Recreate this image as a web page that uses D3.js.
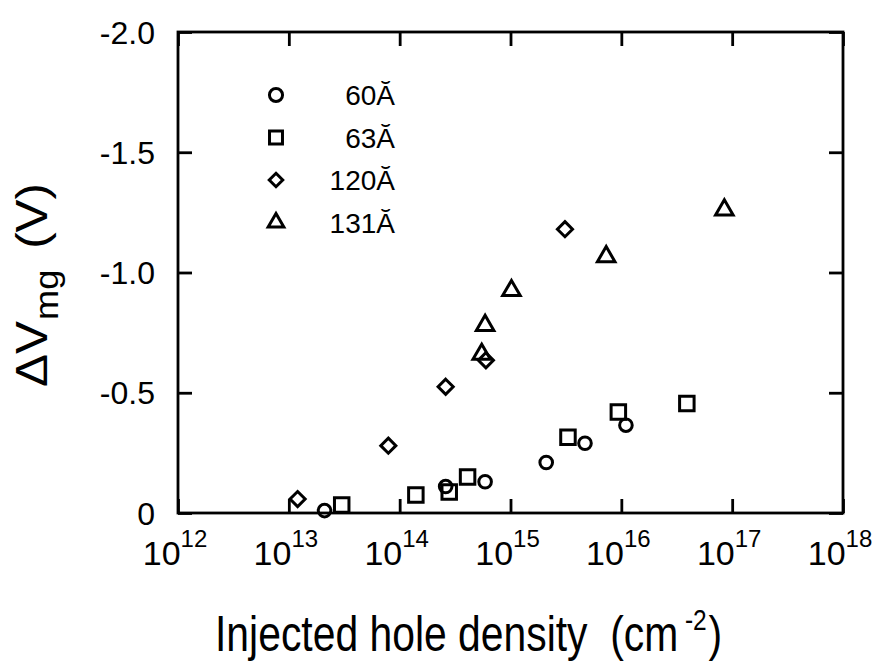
<!DOCTYPE html>
<html>
<head>
<meta charset="utf-8">
<script src="https://cdn.jsdelivr.net/npm/d3@7"></script>
<style>
body { margin: 0; background: #fff; }
text { font-family: "Liberation Sans", Arial, sans-serif; fill: #000; }
</style>
</head>
<body>
<svg class="chart" width="883" height="663"></svg>
<script>
// data (x = injected hole density, y = delta V_mg in V)
var s60x = [2.1e13, 2.6e14, 5.9e14, 2.1e15, 4.7e15, 1.1e16];
var s60y = [-0.01, -0.11, -0.13, -0.21, -0.29, -0.365];
var s63x = [3.0e13, 1.4e14, 2.8e14, 4.1e14, 3.3e15, 9.4e15, 3.9e16];
var s63y = [-0.033, -0.075, -0.087, -0.15, -0.315, -0.42, -0.455];
var s120x = [1.2e13, 7.9e13, 2.6e14, 6.0e14, 3.1e15];
var s120y = [-0.058, -0.28, -0.525, -0.635, -1.18];
var s131x = [5.5e14, 5.9e14, 1.02e15, 7.3e15, 8.5e16];
var s131y = [-0.66, -0.78, -0.925, -1.066, -1.26];

var legendNames = ["60Ă", "63Ă", "120Ă", "131Ă"];
var xTicks = [1e12, 1e13, 1e14, 1e15, 1e16, 1e17, 1e18];
var yTicks = [0, -0.5, -1.0, -1.5, -2.0];

var svg = d3.select(".chart");
var margin = {top: 32, left: 178},
    width = 843 - margin.left,
    height = 513 - margin.top;

var g = svg.append("g")
    .attr("transform", "translate(" + margin.left + "," + margin.top + ")");

var x = d3.scaleLog().domain([1e12, 1e18]).range([0, width]);
var y = d3.scaleLinear().domain([0, -2]).range([height, 0]);

// frame
g.append("rect")
    .attr("width", width).attr("height", height)
    .attr("fill", "none").attr("stroke", "#000").attr("stroke-width", 2.8);

// inward ticks on all four sides
var tickLen = 14;
function tickStyle(sel) {
  sel.select(".domain").remove();
  sel.selectAll(".tick line").attr("stroke", "#000").attr("stroke-width", 2.8);
  sel.selectAll(".tick text").remove();
}
g.append("g").attr("transform", "translate(0," + height + ")")
    .call(d3.axisBottom(x).tickValues(xTicks).tickSizeInner(-tickLen).tickSizeOuter(0))
    .call(tickStyle);
g.append("g")
    .call(d3.axisTop(x).tickValues(xTicks).tickSizeInner(-tickLen).tickSizeOuter(0))
    .call(tickStyle);
g.append("g")
    .call(d3.axisLeft(y).tickValues(yTicks).tickSizeInner(-tickLen).tickSizeOuter(0))
    .call(tickStyle);
g.append("g").attr("transform", "translate(" + width + ",0)")
    .call(d3.axisRight(y).tickValues(yTicks).tickSizeInner(-tickLen).tickSizeOuter(0))
    .call(tickStyle);

// y tick labels
g.selectAll(".ylab").data(yTicks).enter().append("text")
    .attr("x", -23).attr("y", function(d) { return y(d); })
    .attr("dy", "0.36em")
    .attr("text-anchor", "end")
    .style("font-size", "32px")
    .text(function(d) { return d === 0 ? "0" : d3.format(".1f")(d).replace("−", "-"); });

// x tick labels 10^n
var xl = g.selectAll(".xlab").data(xTicks).enter().append("text")
    .attr("x", function(d) { return x(d) - 3; })
    .attr("y", height + 52)
    .attr("text-anchor", "middle")
    .style("font-size", "34px");
xl.append("tspan").text("10");
xl.append("tspan").attr("dy", -18).style("font-size", "24px")
    .text(function(d) { return Math.round(Math.log10(d)); });

// x title, pieces placed side by side then squeezed to the reference width
var xt = svg.append("g");
var t1 = xt.append("text").style("font-size", "50px").text("Injected hole density  (cm");
t1.attr("xml:space", "preserve");
var w1 = t1.node().getComputedTextLength();
var t2 = xt.append("text").attr("x", w1 + 8).attr("y", -21)
    .style("font-size", "30px").text("-2");
var w2 = t2.node().getComputedTextLength();
var t3 = xt.append("text").attr("x", w1 + 8 + w2 + 2)
    .style("font-size", "50px").text(")");
var wAll = w1 + 8 + w2 + 2 + t3.node().getComputedTextLength();
xt.attr("transform", "translate(215,651) scale(" + (507 / wAll) + ",1)");

// y title
var yt = svg.append("g");
var u1 = yt.append("text").style("font-size", "45px").text("ΔV");
var v1 = u1.node().getComputedTextLength();
var u2 = yt.append("text").attr("x", v1 + 1).attr("y", 11)
    .style("font-size", "33px").text("mg");
var v2 = u2.node().getComputedTextLength();
var u3 = yt.append("text").attr("x", v1 + v2 + 20)
    .style("font-size", "45px").text("(V)");
var vAll = v1 + v2 + 20 + u3.node().getComputedTextLength();
yt.attr("transform", "translate(47,387) rotate(-90) scale(" + (204 / vAll) + ",1)");

// markers
var symbols = [d3.symbolCircle, d3.symbolSquare, d3.symbolDiamond2, d3.symbolTriangle2];
var sizes = [125, 210, 145, 220];
var series = [
  {xs: s60x, ys: s60y}, {xs: s63x, ys: s63y},
  {xs: s120x, ys: s120y}, {xs: s131x, ys: s131y}
];

series.forEach(function(s, i) {
  var pts = s.xs.map(function(v, j) { return [v, s.ys[j]]; });
  g.selectAll(".pt" + i).data(pts).enter().append("path")
      .attr("d", d3.symbol().type(symbols[i]).size(sizes[i]))
      .attr("transform", function(d) { return "translate(" + x(d[0]) + "," + y(d[1]) + ")"; })
      .attr("fill", "none").attr("stroke", "#000").attr("stroke-width", 3);
});

// legend
var leg = svg.append("g");
legendNames.forEach(function(name, i) {
  var ly = 95 + i * 42.5;
  leg.append("path")
      .attr("d", d3.symbol().type(symbols[i]).size(i === 0 ? 135 : sizes[i] * 0.8))
      .attr("transform", "translate(276," + ly + ")")
      .attr("fill", "none").attr("stroke", "#000").attr("stroke-width", 3);
  leg.append("text")
      .attr("x", 395).attr("y", ly).attr("dy", "0.36em")
      .attr("text-anchor", "end")
      .style("font-size", "28px")
      .text(name);
});
</script>
</body>
</html>
